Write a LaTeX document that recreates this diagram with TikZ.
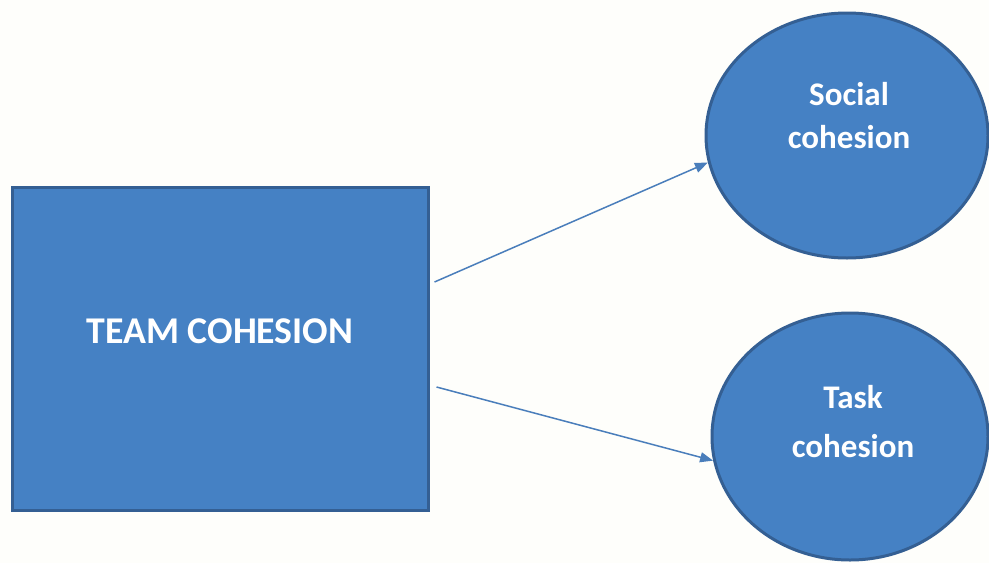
\documentclass[tikz,border=0pt]{standalone}
\usepackage{fontspec}
\setmainfont{Carlito}
\usetikzlibrary{shapes.geometric,arrows.meta}
\definecolor{bgc}{HTML}{FEFEFB}
\definecolor{boxfill}{HTML}{4581C4}
\definecolor{boxline}{HTML}{345F93}
\definecolor{arrowc}{HTML}{4A7EBB}
\tikzset{
  shapebox/.style={draw=boxline, fill=boxfill, line width=3pt, inner sep=0pt},
  bigtext/.style={text=white, font=\bfseries\fontsize{37.8}{42}\selectfont, inner sep=0pt, anchor=base},
  circtext/.style={text=white, font=\bfseries\fontsize{33}{38}\selectfont, inner sep=0pt, anchor=base},
  link/.style={draw=arrowc, line width=1.5pt, -{Triangle[length=13pt,width=10pt]}}
}
\begin{document}
\begin{tikzpicture}[x=1pt,y=-1pt]
\fill[bgc] (0,0) rectangle (989,563);
\useasboundingbox (0,0) rectangle (989,563);
\node[shapebox, rectangle, minimum width=416pt, minimum height=323pt] (team) at (220,348.5) {};
\node[shapebox, ellipse, minimum width=282pt, minimum height=245pt] (social) at (847,135.5) {};
\node[shapebox, ellipse, minimum width=276pt, minimum height=247pt] (task) at (850,436.5) {};
\node[bigtext] (teamtxt) at (220,343) {TEAM COHESION};
\node[circtext] (soc1) at (849,105) {Social};
\node[circtext] (soc2) at (849,148) {cohesion};
\node[circtext] (task1) at (853,408) {Task};
\node[circtext] (task2) at (853,457) {cohesion};
\draw[link] ([xshift=5pt,yshift=66.5pt]team.east) -- (social.191.6);
\draw[link] ([xshift=7pt,yshift=-38.5pt]team.east) -- (task.190.3);
\end{tikzpicture}
\end{document}
